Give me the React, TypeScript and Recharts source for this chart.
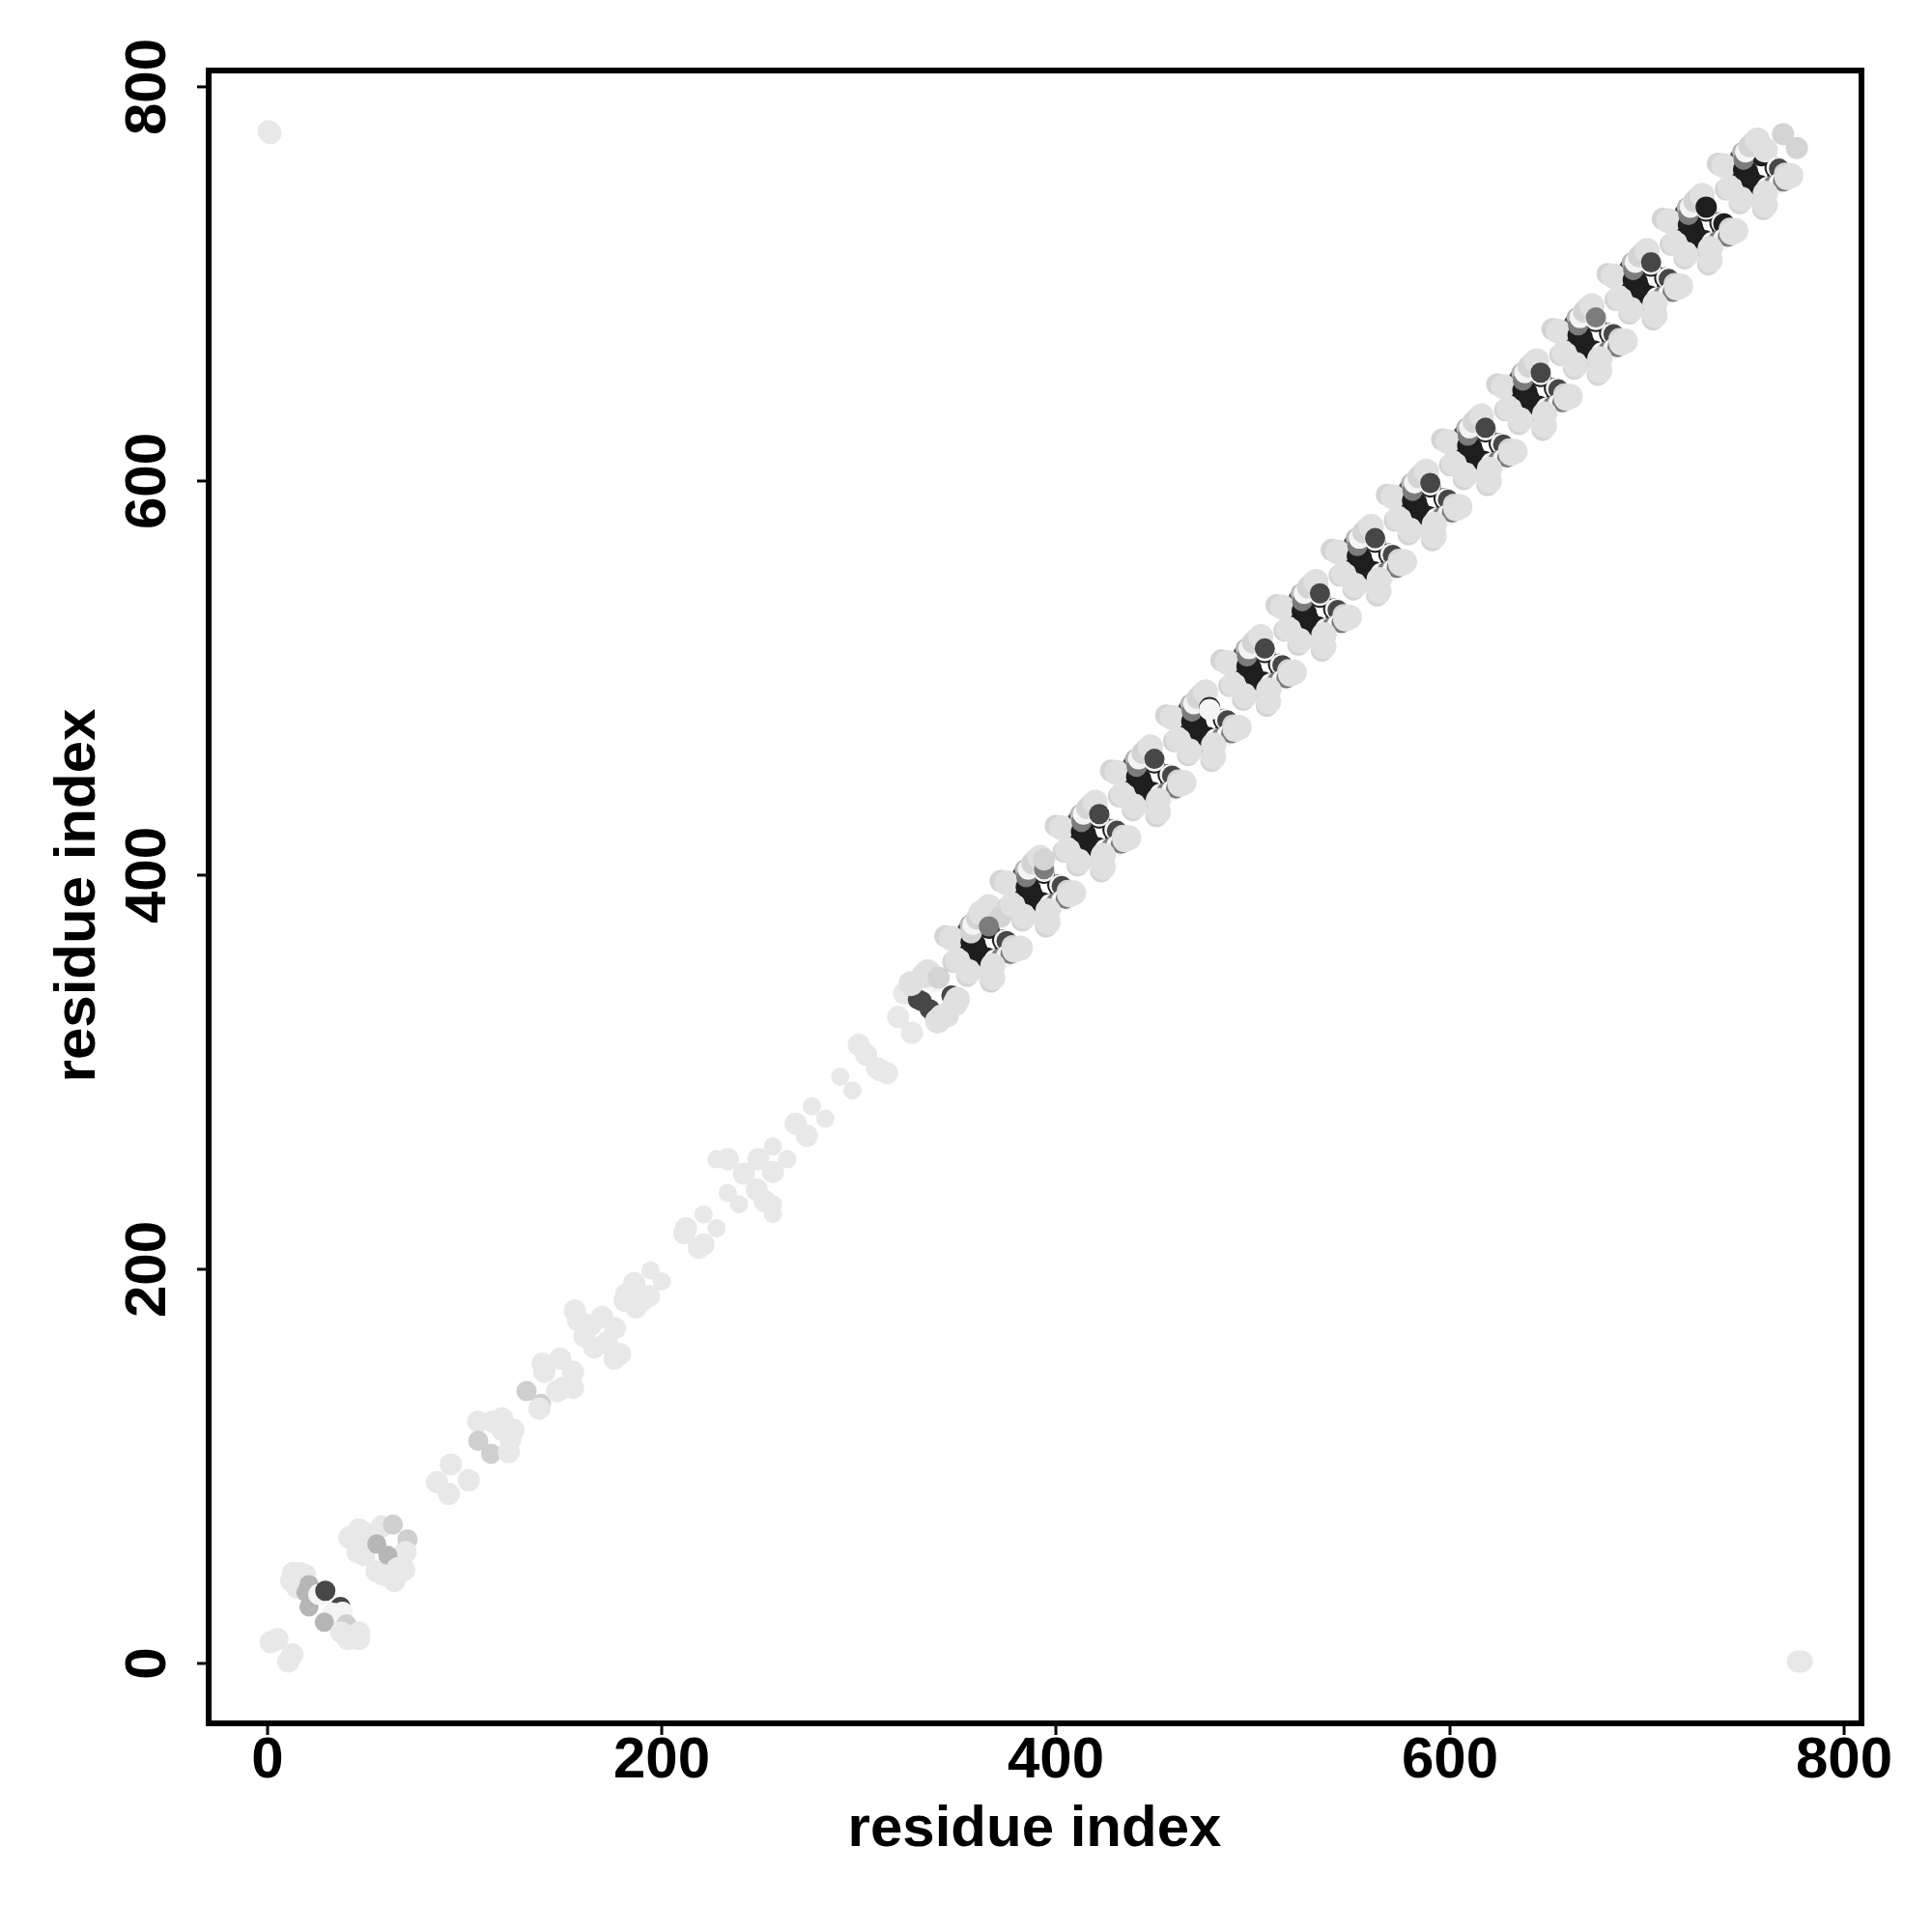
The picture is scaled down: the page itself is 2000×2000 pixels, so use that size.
import React from "react";
import { ScatterChart, Scatter, XAxis, YAxis, ReferenceArea } from "recharts";

type Dot = [number, number, number];

const xTicks = [0, 200, 400, 600, 800];
const yTicks = [0, 200, 400, 600, 800];
const xDomain = [-29.9, 808.8];
const yDomain = [-30.4, 808.3];
const axisTitle = "residue index";

const shades = ["#e0e0e0", "#d4d4d4", "#f4f4f4", "#7c7c7c", "#474747", "#1e1e1e", "#b6b6b6", "#e8e8e8", "#cfcfcf", "#e8e8e8"];
const radii = [13, 11.5, 11, 10.5, 10.5, 11, 10, 11.5, 10.5, 9.5];

const corners: Dot[] = [[0.5, 777.5, 7], [1.5, 776.5, 7], [776.5, 1, 7], [778.5, 1, 7]];
const start: Dot[] = [[1.5, 10.8, 7], [5, 12.4, 7], [10.5, 1, 7], [12.6, 4.5, 7]];
const helixA: Dot[] = [[13, 46, 7], [16, 46, 7], [19, 45, 7], [12, 42, 7], [15, 38.5, 7], [21, 40, 6], [19.5, 36, 6], [21, 28.7, 6], [26, 35, 2], [29.3, 36.9, 4], [37, 28.7, 4], [38, 26, 2], [33, 25.5, 2], [28.8, 20.9, 6], [40, 19.8, 8], [37.5, 15.7, 7], [40.7, 12.4, 7], [46.4, 15.7, 7], [46.4, 12.4, 7]];
const helixB: Dot[] = [[41.5, 63.9, 7], [46.4, 68, 7], [49, 66.3, 7], [45.6, 56.5, 7], [49, 54.9, 7], [58, 69.6, 7], [63.6, 70.4, 8], [71, 63, 8], [70, 56.5, 7], [55.4, 46.7, 7], [58.7, 45, 7], [55.4, 60.6, 6], [61, 54.9, 6], [64.4, 41.8, 7], [69.3, 47.5, 7], [66, 48.3, 7]];
const flower: Dot[] = [[93, 101, 7], [86, 92, 7], [102, 93, 7], [92, 86, 7]];
const clusterC: Dot[] = [[106.9, 122.7, 7], [119, 124.4, 7], [114.2, 122.7, 7], [124.8, 118.6, 7], [119, 118.6, 7], [106.9, 113, 8], [113.4, 106.4, 8], [122.4, 107.2, 7], [123.2, 113.7, 7], [131.4, 138.2, 8], [138.7, 131.7, 8], [138, 129.3, 7]];
const clusterD: Dot[] = [[139.5, 152.1, 7], [140.4, 148, 7], [148.5, 154.6, 7], [155, 148, 7], [150, 139.9, 7], [155, 139.9, 7], [146.9, 138.2, 7]];
const clusterE: Dot[] = [[155.9, 179, 7], [157.5, 174.2, 7], [164, 171.7, 7], [169.8, 175.8, 7], [176.3, 170.1, 7], [160.8, 166, 7], [165.7, 160.3, 7], [172.2, 162.8, 7], [178.8, 157, 7], [176, 154.6, 7]];
const clusterF: Dot[] = [[186.1, 193, 7], [182, 187.3, 7], [181.2, 184, 7], [193.5, 186.4, 7], [186.9, 180.7, 7], [190, 184, 7], [194.3, 199.5, 9], [200, 193.8, 9]];
const clusterG: Dot[] = [[212.3, 220.8, 7], [211.4, 218.3, 7], [221.2, 227.8, 9], [227.8, 220.8, 9], [221.2, 212.6, 7], [218.8, 211, 7]];
const clusterH: Dot[] = [[227.8, 255.9, 9], [233.5, 255.9, 7], [249, 255.9, 7], [256.4, 262.4, 9], [263.7, 255.9, 9], [256.4, 249.4, 7], [241.7, 248.5, 7], [233.5, 238.7, 9], [239.2, 233, 9], [248.2, 240.4, 7], [252.3, 234.6, 7], [256.4, 233, 9], [256.4, 228.1, 9]];
const clusterI: Dot[] = [[268, 273.9, 7], [273.7, 267.7, 7], [276.2, 282.7, 9], [283, 276.4, 9]];
const clusterJ: Dot[] = [[290.6, 297.7, 9], [296.8, 290.8, 9], [300, 313.9, 7], [303.7, 308.9, 7], [309.3, 302, 7], [314.3, 299.5, 7], [311, 301, 7]];

const r338: Dot[] = [[320, 328, 7], [327, 320, 7], [323, 340, 7], [330, 337, 4], [332, 336, 4], [336, 332, 4], [338, 330, 4], [347, 339, 4], [326.5, 345, 0], [338, 346, 2], [333, 349, 0], [335, 351, 0], [340.5, 348, 1], [342, 328, 0], [340, 326, 0], [344.5, 329, 0], [349, 335, 0], [350, 337, 0]];
const core366: Dot[] = [[355, 368, 5], [356, 364, 5], [360, 362, 5], [362, 358, 5], [364, 355, 5], [366, 373, 5], [374, 363, 4], [355, 372, 4], [356, 375, 6]];
const r366: Dot[] = [[344, 369, 1], [347, 368, 0], [348, 356, 1], [350, 357, 0], [355, 349, 1], [356, 351, 0], [367, 346, 1], [368, 348, 0], [357, 366, 5], [359, 365, 5], [365, 358, 5], [373, 367, 5], [357, 371, 1], [358, 375, 2], [360, 378, 1], [362, 381, 0], [366, 384, 0], [372, 379, 1], [366, 374, 3], [374, 367, 2], [375, 366.5, 4], [369, 357, 2], [372, 358, 3], [375, 359, 2], [377, 360, 3], [378, 364, 1], [368, 354, 0], [379, 362, 0], [382, 363, 0]];
const core394: Dot[] = [[383, 396, 5], [384, 392, 5], [388, 390, 5], [390, 386, 5], [392, 383, 5], [394, 401, 5], [402, 391, 4], [383, 400, 4], [384, 403, 6]];
const r394: Dot[] = [[372, 397, 1], [375, 396, 0], [376, 384, 1], [378, 385, 0], [383, 377, 1], [384, 379, 0], [395, 374, 1], [396, 376, 0], [385, 394, 5], [387, 393, 5], [393, 386, 5], [401, 395, 5], [385, 399, 3], [386, 403, 2], [388, 406, 1], [390, 408, 1], [392, 409, 0], [394, 402, 2], [394, 403, 3], [394, 408, 1], [402, 395, 2], [403, 394.5, 4], [397, 385, 2], [400, 386, 3], [403, 387, 2], [405, 388, 3], [406, 392, 1], [396, 382, 0], [407, 390, 0], [409, 391, 0]];
const core422: Dot[] = [[411, 424, 5], [412, 420, 5], [416, 418, 5], [418, 414, 5], [420, 411, 5], [422, 429, 5], [430, 419, 4], [411, 428, 4], [412, 431, 6]];
const r422: Dot[] = [[400, 425, 1], [403, 424, 0], [404, 412, 1], [406, 413, 0], [411, 405, 1], [412, 407, 0], [423, 402, 1], [424, 404, 0], [413, 422, 5], [415, 421, 5], [421, 414, 5], [429, 423, 5], [413, 427, 3], [414, 431, 2], [416, 434, 1], [418, 436, 1], [420, 437, 0], [422, 430, 2], [422, 431, 4], [430, 423, 2], [431, 422.5, 4], [425, 413, 2], [428, 414, 3], [431, 415, 2], [433, 416, 3], [434, 420, 1], [424, 410, 0], [435, 418, 0], [437, 419, 0]];
const core450: Dot[] = [[439, 452, 5], [440, 448, 5], [444, 446, 5], [446, 442, 5], [448, 439, 5], [450, 457, 5], [458, 447, 4], [439, 456, 4], [440, 459, 6]];
const r450: Dot[] = [[428, 453, 1], [431, 452, 0], [432, 440, 1], [434, 441, 0], [439, 433, 1], [440, 435, 0], [451, 430, 1], [452, 432, 0], [441, 450, 5], [443, 449, 5], [449, 442, 5], [457, 451, 5], [441, 455, 3], [442, 459, 2], [444, 462, 1], [446, 464, 1], [448, 465, 0], [450, 458, 2], [450, 459, 4], [458, 451, 2], [459, 450.5, 4], [453, 441, 2], [456, 442, 3], [459, 443, 2], [461, 444, 3], [462, 448, 1], [452, 438, 0], [463, 446, 0], [465, 447, 0]];
const core478: Dot[] = [[467, 480, 5], [468, 476, 5], [472, 474, 5], [474, 470, 5], [476, 467, 5], [486, 475, 4], [467, 484, 4], [468, 487, 6]];
const r478: Dot[] = [[456, 481, 1], [459, 480, 0], [460, 468, 1], [462, 469, 0], [467, 461, 1], [468, 463, 0], [479, 458, 1], [480, 460, 0], [469, 478, 5], [471, 477, 5], [477, 470, 5], [485, 479, 5], [469, 483, 3], [470, 487, 2], [472, 490, 1], [474, 492, 1], [476, 493, 0], [478, 485, 5], [478, 484, 2], [486, 479, 2], [487, 478.5, 4], [481, 469, 2], [484, 470, 3], [487, 471, 2], [489, 472, 3], [490, 476, 1], [480, 466, 0], [491, 474, 0], [493, 475, 0]];
const core506: Dot[] = [[495, 508, 5], [496, 504, 5], [500, 502, 5], [502, 498, 5], [504, 495, 5], [506, 513, 5], [514, 503, 4], [495, 512, 4], [496, 515, 6]];
const r506: Dot[] = [[484, 509, 1], [487, 508, 0], [488, 496, 1], [490, 497, 0], [495, 489, 1], [496, 491, 0], [507, 486, 1], [508, 488, 0], [497, 506, 5], [499, 505, 5], [505, 498, 5], [513, 507, 5], [497, 511, 3], [498, 515, 2], [500, 518, 1], [502, 520, 1], [504, 521, 0], [506, 514, 2], [506, 515, 4], [514, 507, 2], [515, 506.5, 4], [509, 497, 2], [512, 498, 3], [515, 499, 2], [517, 500, 3], [518, 504, 1], [508, 494, 0], [519, 502, 0], [521, 503, 0]];
const core534: Dot[] = [[523, 536, 5], [524, 532, 5], [528, 530, 5], [530, 526, 5], [532, 523, 5], [534, 541, 5], [542, 531, 4], [523, 540, 4], [524, 543, 6]];
const r534: Dot[] = [[512, 537, 1], [515, 536, 0], [516, 524, 1], [518, 525, 0], [523, 517, 1], [524, 519, 0], [535, 514, 1], [536, 516, 0], [525, 534, 5], [527, 533, 5], [533, 526, 5], [541, 535, 5], [525, 539, 3], [526, 543, 2], [528, 546, 1], [530, 548, 1], [532, 549, 0], [534, 542, 2], [534, 543, 4], [542, 535, 2], [543, 534.5, 4], [537, 525, 2], [540, 526, 3], [543, 527, 2], [545, 528, 3], [546, 532, 1], [536, 522, 0], [547, 530, 0], [549, 531, 0]];
const core562: Dot[] = [[551, 564, 5], [552, 560, 5], [556, 558, 5], [558, 554, 5], [560, 551, 5], [562, 569, 5], [570, 559, 4], [551, 568, 4], [552, 571, 6]];
const r562: Dot[] = [[540, 565, 1], [543, 564, 0], [544, 552, 1], [546, 553, 0], [551, 545, 1], [552, 547, 0], [563, 542, 1], [564, 544, 0], [553, 562, 5], [555, 561, 5], [561, 554, 5], [569, 563, 5], [553, 567, 3], [554, 571, 2], [556, 574, 1], [558, 576, 1], [560, 577, 0], [562, 570, 2], [562, 571, 4], [570, 563, 2], [571, 562.5, 4], [565, 553, 2], [568, 554, 3], [571, 555, 2], [573, 556, 3], [574, 560, 1], [564, 550, 0], [575, 558, 0], [577, 559, 0]];
const core590: Dot[] = [[579, 592, 5], [580, 588, 5], [584, 586, 5], [586, 582, 5], [588, 579, 5], [590, 597, 5], [598, 587, 4], [579, 596, 4], [580, 599, 6]];
const r590: Dot[] = [[568, 593, 1], [571, 592, 0], [572, 580, 1], [574, 581, 0], [579, 573, 1], [580, 575, 0], [591, 570, 1], [592, 572, 0], [581, 590, 5], [583, 589, 5], [589, 582, 5], [597, 591, 5], [581, 595, 3], [582, 599, 2], [584, 602, 1], [586, 604, 1], [588, 605, 0], [590, 598, 2], [590, 599, 4], [598, 591, 2], [599, 590.5, 4], [593, 581, 2], [596, 582, 3], [599, 583, 2], [601, 584, 3], [602, 588, 1], [592, 578, 0], [603, 586, 0], [605, 587, 0]];
const core618: Dot[] = [[607, 620, 5], [608, 616, 5], [612, 614, 5], [614, 610, 5], [616, 607, 5], [618, 625, 5], [626, 615, 4], [607, 624, 4], [608, 627, 6]];
const r618: Dot[] = [[596, 621, 1], [599, 620, 0], [600, 608, 1], [602, 609, 0], [607, 601, 1], [608, 603, 0], [619, 598, 1], [620, 600, 0], [609, 618, 5], [611, 617, 5], [617, 610, 5], [625, 619, 5], [609, 623, 3], [610, 627, 2], [612, 630, 1], [614, 632, 1], [616, 633, 0], [618, 626, 2], [618, 627, 4], [626, 619, 2], [627, 618.5, 4], [621, 609, 2], [624, 610, 3], [627, 611, 2], [629, 612, 3], [630, 616, 1], [620, 606, 0], [631, 614, 0], [633, 615, 0]];
const core646: Dot[] = [[635, 648, 5], [636, 644, 5], [640, 642, 5], [642, 638, 5], [644, 635, 5], [646, 653, 5], [654, 643, 4], [635, 652, 4], [636, 655, 6]];
const r646: Dot[] = [[624, 649, 1], [627, 648, 0], [628, 636, 1], [630, 637, 0], [635, 629, 1], [636, 631, 0], [647, 626, 1], [648, 628, 0], [637, 646, 5], [639, 645, 5], [645, 638, 5], [653, 647, 5], [637, 651, 3], [638, 655, 2], [640, 658, 1], [642, 660, 1], [644, 661, 0], [646, 654, 2], [646, 655, 4], [654, 647, 2], [655, 646.5, 4], [649, 637, 2], [652, 638, 3], [655, 639, 2], [657, 640, 3], [658, 644, 1], [648, 634, 0], [659, 642, 0], [661, 643, 0]];
const core674: Dot[] = [[663, 676, 5], [664, 672, 5], [668, 670, 5], [670, 666, 5], [672, 663, 5], [674, 681, 5], [682, 671, 4], [663, 680, 4], [664, 683, 6]];
const r674: Dot[] = [[652, 677, 1], [655, 676, 0], [656, 664, 1], [658, 665, 0], [663, 657, 1], [664, 659, 0], [675, 654, 1], [676, 656, 0], [665, 674, 5], [667, 673, 5], [673, 666, 5], [681, 675, 5], [665, 679, 3], [666, 683, 2], [668, 686, 1], [670, 688, 1], [672, 689, 0], [674, 682, 2], [674, 683, 3], [682, 675, 2], [683, 674.5, 4], [677, 665, 2], [680, 666, 3], [683, 667, 2], [685, 668, 3], [686, 672, 1], [676, 662, 0], [687, 670, 0], [689, 671, 0]];
const core702: Dot[] = [[691, 704, 5], [692, 700, 5], [696, 698, 5], [698, 694, 5], [700, 691, 5], [702, 709, 5], [710, 699, 4], [691, 708, 4], [692, 711, 6]];
const r702: Dot[] = [[680, 705, 1], [683, 704, 0], [684, 692, 1], [686, 693, 0], [691, 685, 1], [692, 687, 0], [703, 682, 1], [704, 684, 0], [693, 702, 5], [695, 701, 5], [701, 694, 5], [709, 703, 5], [693, 707, 3], [694, 711, 2], [696, 714, 1], [698, 716, 1], [700, 717, 0], [702, 710, 2], [702, 711, 4], [710, 703, 2], [711, 702.5, 4], [705, 693, 2], [708, 694, 3], [711, 695, 2], [713, 696, 3], [714, 700, 1], [704, 690, 0], [715, 698, 0], [717, 699, 0]];
const core730: Dot[] = [[719, 732, 5], [720, 728, 5], [724, 726, 5], [726, 722, 5], [728, 719, 5], [730, 737, 5], [738, 727, 4], [719, 736, 4], [720, 739, 6]];
const r730: Dot[] = [[708, 733, 1], [711, 732, 0], [712, 720, 1], [714, 721, 0], [719, 713, 1], [720, 715, 0], [731, 710, 1], [732, 712, 0], [721, 730, 5], [723, 729, 5], [729, 722, 5], [737, 731, 5], [721, 735, 3], [722, 739, 2], [724, 742, 1], [726, 744, 1], [728, 745, 0], [730, 738, 2], [730, 739, 5], [738, 731, 2], [739, 730.5, 5], [733, 721, 2], [736, 722, 3], [739, 723, 2], [741, 724, 3], [742, 728, 1], [732, 718, 0], [743, 726, 0], [745, 727, 0]];
const core758: Dot[] = [[747, 760, 5], [748, 756, 5], [752, 754, 5], [754, 750, 5], [756, 747, 5], [758, 765, 5], [766, 755, 4], [747, 764, 4], [748, 767, 6]];
const r758: Dot[] = [[736, 761, 1], [739, 760, 0], [740, 748, 1], [742, 749, 0], [747, 741, 1], [748, 743, 0], [759, 738, 1], [760, 740, 0], [749, 758, 5], [751, 757, 5], [757, 750, 5], [765, 759, 5], [749, 763, 3], [750, 767, 2], [752, 770, 1], [754, 772, 1], [756, 773, 0], [760, 768, 0], [769, 776, 1], [776, 769, 1], [766, 759, 2], [767, 758.5, 4], [761, 749, 2], [764, 750, 3], [767, 751, 2], [769, 752, 3], [770, 756, 1], [760, 746, 0], [771, 754, 0], [773, 755, 0]];

const groups: Dot[][] = [corners, start, helixA, helixB, flower, clusterC, clusterD, clusterE, clusterF, clusterG, clusterH, clusterI, clusterJ, r338, core366, r366, core394, r394, core422, r422, core450, r450, core478, r478, core506, r506, core534, r534, core562, r562, core590, r590, core618, r618, core646, r646, core674, r674, core702, r702, core730, r730, core758, r758];
const contacts = groups.flat().map(([i, j, level]) => ({ i, j, level }));

const font = "'Liberation Sans', Arial, sans-serif";

const Dotted = (p: any) => (
  <circle cx={p.cx} cy={p.cy} r={radii[p.payload.level]} fill={shades[p.payload.level]} />
);

const XTick = (p: any) => (
  <text x={p.x} y={1840} textAnchor="middle" fontFamily={font} fontWeight={700} fontSize={60} fill="#000">
    {p.payload.value}
  </text>
);

const YTick = (p: any) => (
  <text x={171} y={p.y} textAnchor="middle" fontFamily={font} fontWeight={700} fontSize={60} fill="#000" transform={`rotate(-90 171 ${p.y})`}>
    {p.payload.value}
  </text>
);

export default function App() {
  return (
    <div style={{ position: "absolute", left: 0, top: 0, width: 2000, height: 2000, background: "#fff" }}>
      <ScatterChart width={2000} height={2000} margin={{ top: 73, right: 73, bottom: 0, left: 0 }}>
        <XAxis
          type="number"
          dataKey="i"
          domain={xDomain}
          ticks={xTicks}
          height={216}
          allowDataOverflow
          axisLine={false}
          tickLine={{ stroke: "#000", strokeWidth: 3 }}
          tickSize={12}
          tick={<XTick />}
          interval={0}
          label={(_: any) => (
            <text x={1071} y={1911} textAnchor="middle" fontFamily={font} fontWeight={700} fontSize={60} fill="#000">
              {axisTitle}
            </text>
          )}
        />
        <YAxis
          type="number"
          dataKey="j"
          domain={yDomain}
          ticks={yTicks}
          width={216}
          allowDataOverflow
          axisLine={false}
          tickLine={{ stroke: "#000", strokeWidth: 3 }}
          tickSize={12}
          tick={<YTick />}
          interval={0}
          label={(_: any) => (
            <text x={98} y={927} textAnchor="middle" fontFamily={font} fontWeight={700} fontSize={60} fill="#000" transform="rotate(-90 98 927)">
              {axisTitle}
            </text>
          )}
        />
        <Scatter data={contacts} isAnimationActive={false} shape={<Dotted />} />
        <ReferenceArea x1={xDomain[0]} x2={xDomain[1]} y1={yDomain[0]} y2={yDomain[1]} fill="none" stroke="#000" strokeWidth={6} strokeOpacity={1} fillOpacity={0} />
      </ScatterChart>
    </div>
  );
}
